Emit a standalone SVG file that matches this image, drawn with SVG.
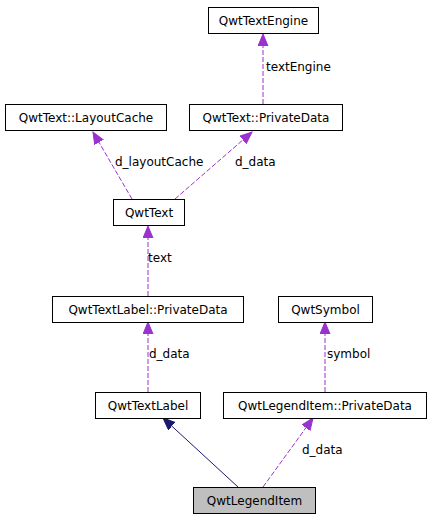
<svg xmlns="http://www.w3.org/2000/svg" width="432" height="520" viewBox="0 0 432 520">
<style>
.box{fill:#ffffff;stroke:#000000;stroke-width:1}
.t{font-family:"DejaVu Sans","Liberation Sans",sans-serif;font-size:12px;fill:#000000}
.c{text-anchor:middle}
.u{fill:none;stroke:#9a32cd;stroke-width:1;stroke-dasharray:5,2}
.inh{fill:none;stroke:#191970;stroke-width:1}
</style>
<defs>
<marker id="ap" markerUnits="userSpaceOnUse" markerWidth="14" markerHeight="12" refX="12" refY="5" orient="auto">
<path d="M0,0 L12,5 L0,10 Z" fill="#9a32cd" stroke="#9a32cd"/>
</marker>
<marker id="an" markerUnits="userSpaceOnUse" markerWidth="14" markerHeight="12" refX="12" refY="5" orient="auto">
<path d="M0,0 L12,5 L0,10 Z" fill="#191970" stroke="#191970"/>
</marker>
</defs>
<rect width="432" height="520" fill="#ffffff"/>
<g id="edges">
<path class="u" d="M263,104 L263,34" marker-end="url(#ap)"/>
<text class="t" x="266" y="71">textEngine</text>
<path class="u" d="M132,199 L93,132" marker-end="url(#ap)"/>
<text class="t" x="115" y="166">d_layoutCache</text>
<path class="u" d="M175,199 L252,132" marker-end="url(#ap)"/>
<text class="t" x="235" y="166">d_data</text>
<path class="u" d="M148,296 L148,226" marker-end="url(#ap)"/>
<text class="t" x="148" y="262">text</text>
<path class="u" d="M148,392 L148,322" marker-end="url(#ap)"/>
<text class="t" x="149" y="358">d_data</text>
<path class="u" d="M325,392 L325,322" marker-end="url(#ap)"/>
<text class="t" x="327" y="358">symbol</text>
<path class="inh" d="M238,487 L163,418" marker-end="url(#an)"/>
<path class="u" d="M263,487 L313,418" marker-end="url(#ap)"/>
<text class="t" x="302" y="454">d_data</text>
</g>
<g id="QwtTextEngine"><rect class="box" x="208.5" y="7.5" width="110" height="26"/><text class="t c" x="263.5" y="25">QwtTextEngine</text></g>
<g id="QwtText_PrivateData"><rect class="box" x="189.5" y="104.5" width="153" height="26"/><text class="t c" x="266" y="122">QwtText::PrivateData</text></g>
<g id="QwtText_LayoutCache"><rect class="box" x="5.5" y="104.5" width="161" height="26"/><text class="t c" x="86" y="122">QwtText::LayoutCache</text></g>
<g id="QwtText"><rect class="box" x="113.5" y="199.5" width="71" height="26"/><text class="t c" x="149" y="217">QwtText</text></g>
<g id="QwtTextLabel_PrivateData"><rect class="box" x="52.5" y="296.5" width="191" height="26"/><text class="t c" x="148" y="314">QwtTextLabel::PrivateData</text></g>
<g id="QwtSymbol"><rect class="box" x="278.5" y="296.5" width="94" height="26"/><text class="t c" x="325.5" y="314">QwtSymbol</text></g>
<g id="QwtTextLabel"><rect class="box" x="95.5" y="392.5" width="105" height="26"/><text class="t c" x="148" y="410">QwtTextLabel</text></g>
<g id="QwtLegendItem_PrivateData"><rect class="box" x="223.5" y="392.5" width="203" height="26"/><text class="t c" x="325" y="410">QwtLegendItem::PrivateData</text></g>
<g id="QwtLegendItem"><rect class="box" x="193.5" y="487.5" width="122" height="26" style="fill:#bfbfbf"/><text class="t c" x="254.5" y="505">QwtLegendItem</text></g>
</svg>
